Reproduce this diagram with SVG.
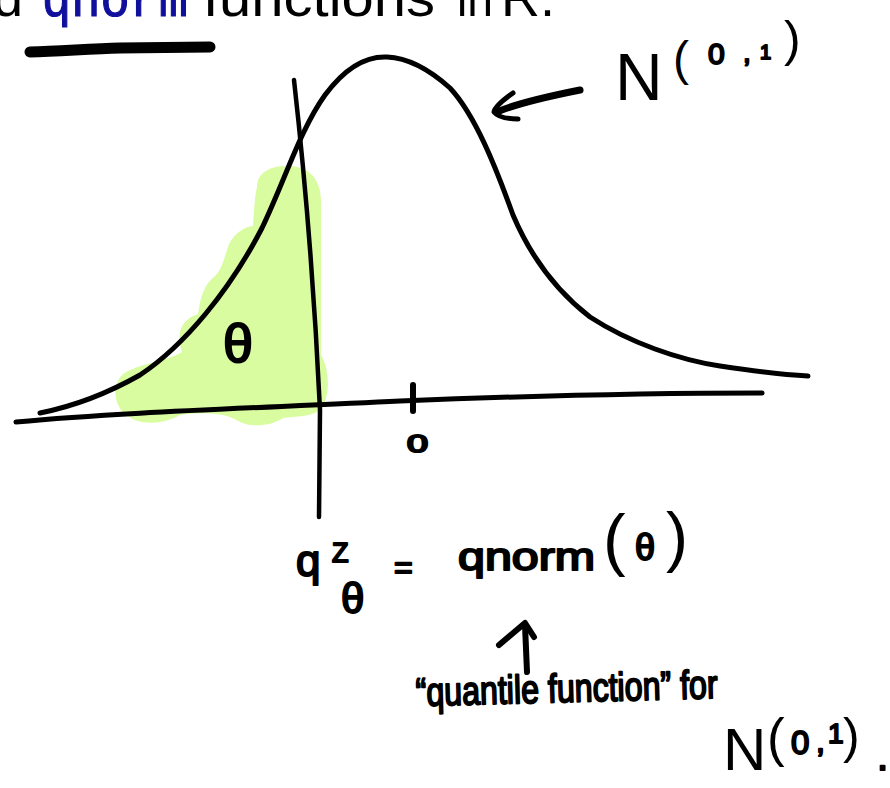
<svg xmlns="http://www.w3.org/2000/svg" width="890" height="788" viewBox="0 0 890 788">
<style>
.ink{fill:none;stroke:#000;stroke-linecap:round;stroke-linejoin:round}
.hw{font-family:"Liberation Sans",Arial,sans-serif;fill:#000;stroke:#000;stroke-width:2;stroke-linejoin:round}
.hwl{font-family:"Liberation Sans",Arial,sans-serif;fill:#000}
.top{font-family:"Liberation Sans",Arial,sans-serif;font-size:54px;fill:#000}
.tt{font-family:"Liberation Mono","Courier New",monospace;font-size:54px;fill:#10109c;stroke:#10109c;stroke-width:1.2}
</style>
<rect width="890" height="788" fill="#fff"/>
<g id="header">
<text class="top" x="-7" y="16">d</text>
<text class="tt" x="42" y="16" textLength="146" lengthAdjust="spacingAndGlyphs">qnorm</text>
<text class="top" x="203" y="16" textLength="232" lengthAdjust="spacingAndGlyphs">functions</text>
<text class="top" x="457" y="16" textLength="36" lengthAdjust="spacingAndGlyphs">in</text>
<text class="top" x="501" y="16">R.</text>
<path class="ink" d="M30,52 C60,51 90,49 120,48 L210,47" stroke-width="11"/>
</g>
<g id="shaded-area">
<path fill="#d9fca0" d="M257,187 C257,170 275,165 290,166 C310,167 322,180 321,205 L321,355 C330,370 330,395 322,408 C312,418 295,416 283,418 C272,426 250,428 238,421 C225,412 200,412 180,415 C165,424 140,426 128,416 C113,407 112,385 122,375 C135,364 165,362 182,352 C176,335 180,320 198,314 C200,300 203,285 215,276 C222,270 225,255 228,247 C232,235 245,226 253,226 C254,210 255,195 257,187 Z"/>
</g>
<g id="axes">
<path class="ink" stroke-width="5" d="M16,422 C120,412 260,408 400,401 C550,395 650,393 762,393"/>
<path class="ink" stroke-width="4.5" d="M294,80 Q312,240 320,410 L319,517"/>
<path class="ink" stroke-width="6" d="M413,385 L413,411"/>
<text class="hw" x="407" y="452" font-size="24" textLength="21" lengthAdjust="spacingAndGlyphs">0</text>
</g>
<g id="density-curve">
<path class="ink" stroke-width="5" d="M40,413 C80,405 110,392 140,375 C185,345 230,290 262,228 C285,180 300,130 325,95 C345,68 365,56 387,57 C410,58 430,70 450,88 C475,115 495,165 513,215 C530,255 555,290 590,317 C630,343 680,360 720,366 C760,372 790,375 808,376"/>
</g>
<g id="theta-label">
<text class="hw" x="223" y="362" font-size="54">θ</text>
</g>
<g id="n01-label">
<text class="hwl"><tspan x="615" y="100" font-size="66">N</tspan><tspan x="673" y="75" font-size="48">(</tspan><tspan class="hw" x="708" y="64" font-size="30">0</tspan><tspan class="hw" x="743" y="62" font-size="28">,</tspan><tspan class="hw" x="760" y="59" font-size="20">1</tspan><tspan x="784" y="56" font-size="50">)</tspan></text>
</g>
<g id="formula">
<text class="hw" x="296" y="576" font-size="44">q</text>
<text class="hw" x="332" y="562" font-size="27">Z</text>
<text class="hw" x="341" y="613" font-size="42">θ</text>
<text class="hw" x="394" y="578" font-size="32">=</text>
<text class="hw" x="458" y="570" font-size="38" textLength="137" lengthAdjust="spacingAndGlyphs">qnorm</text>
<text class="hwl" x="603" y="563" font-size="68">(</text>
<text class="hw" x="635" y="560" font-size="36">θ</text>
<text class="hwl" x="666" y="559" font-size="66">)</text>
</g>
<g id="quantile-note">
<text class="hw" x="416" y="706" font-size="40" textLength="302" lengthAdjust="spacingAndGlyphs" transform="rotate(-1.5 416 706)">“quantile function” for</text>
<text class="hwl"><tspan x="723" y="770" font-size="60">N</tspan><tspan x="767" y="756" font-size="53">(</tspan><tspan class="hw" x="791" y="754" font-size="33">0</tspan><tspan class="hw" x="816" y="752" font-size="32">,</tspan><tspan class="hw" x="828" y="743" font-size="28">1</tspan><tspan x="843" y="753" font-size="50">)</tspan><tspan class="hw" x="877" y="770" font-size="40">.</tspan></text>
</g>
<g id="connectors">
<path class="ink" stroke-width="7" d="M580,90 C555,95 520,102 497,112"/>
<path class="ink" stroke-width="5" d="M513,93 C503,100 495,107 494,112 C498,117 508,119 518,119"/>
<path class="ink" stroke-width="6" d="M527,672 L525,625"/>
<path class="ink" stroke-width="6" d="M499,645 L525,623 L534,637"/>
</g>
</svg>
